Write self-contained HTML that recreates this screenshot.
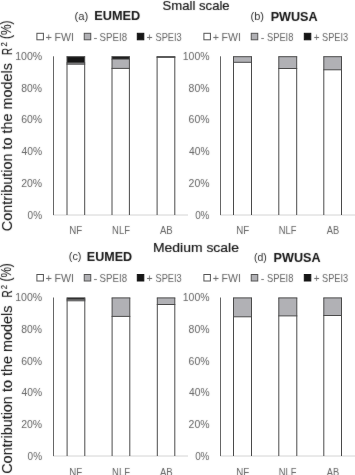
<!DOCTYPE html>
<html><head><meta charset="utf-8"><style>
html,body{margin:0;padding:0;background:#fff;}
body{width:355px;height:475px;overflow:hidden;}
svg{display:block;will-change:transform;font-family:"Liberation Sans", sans-serif;}
</style></head><body>
<svg width="355" height="475" viewBox="0 0 355 475">
<defs><filter id="bl" x="0" y="0" width="355" height="475" filterUnits="userSpaceOnUse" color-interpolation-filters="sRGB"><feConvolveMatrix order="3" kernelMatrix="1 2 1 2 24 2 1 2 1" divisor="36" edgeMode="none" preserveAlpha="false"/></filter></defs>
<filter id="blt" x="0" y="0" width="355" height="475" filterUnits="userSpaceOnUse" color-interpolation-filters="sRGB"><feConvolveMatrix order="3" kernelMatrix="1 2 1 2 36 2 1 2 1" divisor="48" edgeMode="none" preserveAlpha="false"/></filter>
<rect x="0" y="0" width="355" height="475" fill="#fff"/>
<g id="plot" filter="none">
<line x1="53.00" y1="215.00" x2="188.00" y2="215.00" stroke="#d4d4d4" stroke-width="1"/>
<rect x="67.00" y="56.70" width="17.70" height="6.20" fill="#161616"/>
<rect x="67.00" y="62.90" width="17.70" height="1.30" fill="#b1b1b5"/>
<line x1="66.50" y1="56.70" x2="85.20" y2="56.70" stroke="#4a4a4a" stroke-width="1"/>
<line x1="66.50" y1="62.90" x2="85.20" y2="62.90" stroke="#4a4a4a" stroke-width="1"/>
<line x1="66.50" y1="64.20" x2="85.20" y2="64.20" stroke="#4a4a4a" stroke-width="1"/>
<line x1="67.00" y1="56.70" x2="67.00" y2="215.00" stroke="#4a4a4a" stroke-width="1"/>
<line x1="84.70" y1="56.70" x2="84.70" y2="215.00" stroke="#4a4a4a" stroke-width="1"/>
<rect x="112.00" y="56.70" width="17.40" height="2.40" fill="#161616"/>
<rect x="112.00" y="59.10" width="17.40" height="9.30" fill="#b1b1b5"/>
<line x1="111.50" y1="56.70" x2="129.90" y2="56.70" stroke="#4a4a4a" stroke-width="1"/>
<line x1="111.50" y1="59.10" x2="129.90" y2="59.10" stroke="#4a4a4a" stroke-width="1"/>
<line x1="111.50" y1="68.40" x2="129.90" y2="68.40" stroke="#4a4a4a" stroke-width="1"/>
<line x1="112.00" y1="56.70" x2="112.00" y2="215.00" stroke="#4a4a4a" stroke-width="1"/>
<line x1="129.40" y1="56.70" x2="129.40" y2="215.00" stroke="#4a4a4a" stroke-width="1"/>
<rect x="157.10" y="56.70" width="17.70" height="0.60" fill="#161616"/>
<line x1="156.60" y1="56.70" x2="175.30" y2="56.70" stroke="#4a4a4a" stroke-width="1"/>
<line x1="156.60" y1="57.30" x2="175.30" y2="57.30" stroke="#4a4a4a" stroke-width="1"/>
<line x1="157.10" y1="56.70" x2="157.10" y2="215.00" stroke="#4a4a4a" stroke-width="1"/>
<line x1="174.80" y1="56.70" x2="174.80" y2="215.00" stroke="#4a4a4a" stroke-width="1"/>
<line x1="53.50" y1="56.30" x2="53.50" y2="215.00" stroke="#666666" stroke-width="1"/>
<line x1="220.00" y1="215.00" x2="355.00" y2="215.00" stroke="#d4d4d4" stroke-width="1"/>
<rect x="233.50" y="56.70" width="18.00" height="5.60" fill="#b1b1b5"/>
<line x1="233.00" y1="56.70" x2="252.00" y2="56.70" stroke="#4a4a4a" stroke-width="1"/>
<line x1="233.00" y1="62.30" x2="252.00" y2="62.30" stroke="#4a4a4a" stroke-width="1"/>
<line x1="233.50" y1="56.70" x2="233.50" y2="215.00" stroke="#4a4a4a" stroke-width="1"/>
<line x1="251.50" y1="56.70" x2="251.50" y2="215.00" stroke="#4a4a4a" stroke-width="1"/>
<rect x="278.80" y="56.70" width="17.90" height="11.80" fill="#b1b1b5"/>
<line x1="278.30" y1="56.70" x2="297.20" y2="56.70" stroke="#4a4a4a" stroke-width="1"/>
<line x1="278.30" y1="68.50" x2="297.20" y2="68.50" stroke="#4a4a4a" stroke-width="1"/>
<line x1="278.80" y1="56.70" x2="278.80" y2="215.00" stroke="#4a4a4a" stroke-width="1"/>
<line x1="296.70" y1="56.70" x2="296.70" y2="215.00" stroke="#4a4a4a" stroke-width="1"/>
<rect x="323.80" y="56.70" width="17.70" height="13.10" fill="#b1b1b5"/>
<line x1="323.30" y1="56.70" x2="342.00" y2="56.70" stroke="#4a4a4a" stroke-width="1"/>
<line x1="323.30" y1="69.80" x2="342.00" y2="69.80" stroke="#4a4a4a" stroke-width="1"/>
<line x1="323.80" y1="56.70" x2="323.80" y2="215.00" stroke="#4a4a4a" stroke-width="1"/>
<line x1="341.50" y1="56.70" x2="341.50" y2="215.00" stroke="#4a4a4a" stroke-width="1"/>
<line x1="220.50" y1="56.30" x2="220.50" y2="215.00" stroke="#666666" stroke-width="1"/>
<line x1="53.00" y1="456.00" x2="188.00" y2="456.00" stroke="#d4d4d4" stroke-width="1"/>
<rect x="67.10" y="297.90" width="17.70" height="1.40" fill="#161616"/>
<rect x="67.10" y="299.30" width="17.70" height="1.50" fill="#b1b1b5"/>
<line x1="66.60" y1="297.90" x2="85.30" y2="297.90" stroke="#4a4a4a" stroke-width="1"/>
<line x1="66.60" y1="299.30" x2="85.30" y2="299.30" stroke="#4a4a4a" stroke-width="1"/>
<line x1="66.60" y1="300.80" x2="85.30" y2="300.80" stroke="#4a4a4a" stroke-width="1"/>
<line x1="67.10" y1="297.90" x2="67.10" y2="456.00" stroke="#4a4a4a" stroke-width="1"/>
<line x1="84.80" y1="297.90" x2="84.80" y2="456.00" stroke="#4a4a4a" stroke-width="1"/>
<rect x="112.10" y="297.90" width="17.70" height="18.50" fill="#b1b1b5"/>
<line x1="111.60" y1="297.90" x2="130.30" y2="297.90" stroke="#4a4a4a" stroke-width="1"/>
<line x1="111.60" y1="316.40" x2="130.30" y2="316.40" stroke="#4a4a4a" stroke-width="1"/>
<line x1="112.10" y1="297.90" x2="112.10" y2="456.00" stroke="#4a4a4a" stroke-width="1"/>
<line x1="129.80" y1="297.90" x2="129.80" y2="456.00" stroke="#4a4a4a" stroke-width="1"/>
<rect x="157.30" y="297.90" width="17.50" height="6.60" fill="#b1b1b5"/>
<line x1="156.80" y1="297.90" x2="175.30" y2="297.90" stroke="#4a4a4a" stroke-width="1"/>
<line x1="156.80" y1="304.50" x2="175.30" y2="304.50" stroke="#4a4a4a" stroke-width="1"/>
<line x1="157.30" y1="297.90" x2="157.30" y2="456.00" stroke="#4a4a4a" stroke-width="1"/>
<line x1="174.80" y1="297.90" x2="174.80" y2="456.00" stroke="#4a4a4a" stroke-width="1"/>
<line x1="53.50" y1="297.50" x2="53.50" y2="456.00" stroke="#666666" stroke-width="1"/>
<line x1="220.00" y1="456.00" x2="355.00" y2="456.00" stroke="#d4d4d4" stroke-width="1"/>
<rect x="233.50" y="297.90" width="18.00" height="18.90" fill="#b1b1b5"/>
<line x1="233.00" y1="297.90" x2="252.00" y2="297.90" stroke="#4a4a4a" stroke-width="1"/>
<line x1="233.00" y1="316.80" x2="252.00" y2="316.80" stroke="#4a4a4a" stroke-width="1"/>
<line x1="233.50" y1="297.90" x2="233.50" y2="456.00" stroke="#4a4a4a" stroke-width="1"/>
<line x1="251.50" y1="297.90" x2="251.50" y2="456.00" stroke="#4a4a4a" stroke-width="1"/>
<rect x="278.80" y="297.90" width="18.00" height="18.00" fill="#b1b1b5"/>
<line x1="278.30" y1="297.90" x2="297.30" y2="297.90" stroke="#4a4a4a" stroke-width="1"/>
<line x1="278.30" y1="315.90" x2="297.30" y2="315.90" stroke="#4a4a4a" stroke-width="1"/>
<line x1="278.80" y1="297.90" x2="278.80" y2="456.00" stroke="#4a4a4a" stroke-width="1"/>
<line x1="296.80" y1="297.90" x2="296.80" y2="456.00" stroke="#4a4a4a" stroke-width="1"/>
<rect x="323.80" y="297.90" width="17.70" height="17.60" fill="#b1b1b5"/>
<line x1="323.30" y1="297.90" x2="342.00" y2="297.90" stroke="#4a4a4a" stroke-width="1"/>
<line x1="323.30" y1="315.50" x2="342.00" y2="315.50" stroke="#4a4a4a" stroke-width="1"/>
<line x1="323.80" y1="297.90" x2="323.80" y2="456.00" stroke="#4a4a4a" stroke-width="1"/>
<line x1="341.50" y1="297.90" x2="341.50" y2="456.00" stroke="#4a4a4a" stroke-width="1"/>
<line x1="220.50" y1="297.50" x2="220.50" y2="456.00" stroke="#666666" stroke-width="1"/>
<rect x="36.90" y="33.30" width="6.5" height="6.5" fill="#ffffff" stroke="#555555" stroke-width="1"/>
<rect x="84.25" y="33.30" width="6.5" height="6.5" fill="#b1b1b5" stroke="#555555" stroke-width="1"/>
<rect x="137.30" y="33.30" width="6.5" height="6.5" fill="#161616" stroke="#161616" stroke-width="1"/>
<rect x="203.90" y="33.30" width="6.5" height="6.5" fill="#ffffff" stroke="#555555" stroke-width="1"/>
<rect x="251.25" y="33.30" width="6.5" height="6.5" fill="#b1b1b5" stroke="#555555" stroke-width="1"/>
<rect x="304.30" y="33.30" width="6.5" height="6.5" fill="#161616" stroke="#161616" stroke-width="1"/>
<rect x="36.90" y="274.50" width="6.5" height="6.5" fill="#ffffff" stroke="#555555" stroke-width="1"/>
<rect x="84.25" y="274.50" width="6.5" height="6.5" fill="#b1b1b5" stroke="#555555" stroke-width="1"/>
<rect x="137.30" y="274.50" width="6.5" height="6.5" fill="#161616" stroke="#161616" stroke-width="1"/>
<rect x="203.90" y="274.50" width="6.5" height="6.5" fill="#ffffff" stroke="#555555" stroke-width="1"/>
<rect x="251.25" y="274.50" width="6.5" height="6.5" fill="#b1b1b5" stroke="#555555" stroke-width="1"/>
<rect x="304.30" y="274.50" width="6.5" height="6.5" fill="#161616" stroke="#161616" stroke-width="1"/>
</g>
<g id="txt" filter="url(#blt)">
<text id="small" x="162.55" y="10.19" font-size="13.20" fill="#161616" stroke="#161616" stroke-width="0.2" textLength="67.11" lengthAdjust="spacingAndGlyphs">Small scale</text>
<text id="pa" x="74.53" y="19.77" font-size="11.46" fill="#2e2e2e" textLength="13.86" lengthAdjust="spacingAndGlyphs">(a)</text>
<text id="ta" x="94.36" y="20.07" font-size="11.95" font-weight="bold" fill="#161616" stroke="#161616" stroke-width="0.05" textLength="45.91" lengthAdjust="spacingAndGlyphs">EUMED</text>
<text id="lat1" x="54.52" y="40.53" font-size="11.47" fill="#626262" textLength="19.48" lengthAdjust="spacingAndGlyphs">FWI</text>
<text id="ytL0" x="15.21" y="60.12" font-size="10.85" fill="#626262" textLength="27.00" lengthAdjust="spacingAndGlyphs">100%</text>
<text id="ytA1" x="11.63" y="231.15" font-size="13.89" fill="#161616" stroke="#161616" stroke-width="0.1" textLength="168.11" lengthAdjust="spacingAndGlyphs" transform="rotate(-90 11.63 231.15)">Contribution to the models</text>
<text id="ytC1" x="6.94" y="46.57" font-size="8.89" fill="#161616" stroke="#161616" stroke-width="0.1" textLength="4.29" lengthAdjust="spacingAndGlyphs" transform="rotate(-90 6.94 46.57)">2</text>
<text id="medium" x="152.98" y="251.78" font-size="13.20" fill="#161616" stroke="#161616" stroke-width="0.2" textLength="85.96" lengthAdjust="spacingAndGlyphs">Medium scale</text>
<text id="pb" x="250.48" y="19.80" font-size="11.46" fill="#2e2e2e" textLength="13.50" lengthAdjust="spacingAndGlyphs">(b)</text>
<text id="tb" x="270.66" y="20.52" font-size="11.95" font-weight="bold" fill="#161616" stroke="#161616" stroke-width="0.05" textLength="46.93" lengthAdjust="spacingAndGlyphs">PWUSA</text>
<text id="pc" x="68.81" y="260.04" font-size="11.46" fill="#2e2e2e" textLength="12.71" lengthAdjust="spacingAndGlyphs">(c)</text>
<text id="tc" x="86.87" y="261.25" font-size="11.95" font-weight="bold" fill="#161616" stroke="#161616" stroke-width="0.05" textLength="45.27" lengthAdjust="spacingAndGlyphs">EUMED</text>
<text id="pd" x="253.96" y="260.76" font-size="11.46" fill="#2e2e2e" textLength="12.82" lengthAdjust="spacingAndGlyphs">(d)</text>
<text id="td" x="273.60" y="261.65" font-size="11.95" font-weight="bold" fill="#161616" stroke="#161616" stroke-width="0.05" textLength="46.93" lengthAdjust="spacingAndGlyphs">PWUSA</text>
<text id="lat0" x="45.54" y="40.76" font-size="11.47" fill="#626262" textLength="6.47" lengthAdjust="spacingAndGlyphs">+</text>
<text id="lat2" x="93.54" y="40.50" font-size="11.47" fill="#626262" textLength="3.92" lengthAdjust="spacingAndGlyphs">-</text>
<text id="lat3" x="99.62" y="40.62" font-size="11.47" fill="#626262" textLength="27.41" lengthAdjust="spacingAndGlyphs">SPEI8</text>
<text id="lat4" x="146.57" y="40.76" font-size="11.47" fill="#626262" textLength="6.15" lengthAdjust="spacingAndGlyphs">+</text>
<text id="lat5" x="155.49" y="40.62" font-size="11.47" fill="#626262" textLength="26.26" lengthAdjust="spacingAndGlyphs">SPEI3</text>
<text id="lbt0" x="212.86" y="40.76" font-size="11.47" fill="#626262" textLength="6.27" lengthAdjust="spacingAndGlyphs">+</text>
<text id="lbt1" x="221.55" y="40.53" font-size="11.47" fill="#626262" textLength="19.31" lengthAdjust="spacingAndGlyphs">FWI</text>
<text id="lbt2" x="260.84" y="40.50" font-size="11.47" fill="#626262" textLength="3.64" lengthAdjust="spacingAndGlyphs">-</text>
<text id="lbt3" x="266.93" y="40.62" font-size="11.47" fill="#626262" textLength="26.48" lengthAdjust="spacingAndGlyphs">SPEI8</text>
<text id="lbt4" x="313.66" y="40.76" font-size="11.47" fill="#626262" textLength="5.83" lengthAdjust="spacingAndGlyphs">+</text>
<text id="lbt5" x="322.12" y="40.53" font-size="11.47" fill="#626262" textLength="26.04" lengthAdjust="spacingAndGlyphs">SPEI3</text>
<text id="lab0" x="45.54" y="282.00" font-size="11.47" fill="#626262" textLength="6.47" lengthAdjust="spacingAndGlyphs">+</text>
<text id="lab1" x="54.52" y="281.77" font-size="11.47" fill="#626262" textLength="19.58" lengthAdjust="spacingAndGlyphs">FWI</text>
<text id="lab2" x="93.54" y="281.56" font-size="11.47" fill="#626262" textLength="3.92" lengthAdjust="spacingAndGlyphs">-</text>
<text id="lab3" x="99.62" y="281.85" font-size="11.47" fill="#626262" textLength="27.41" lengthAdjust="spacingAndGlyphs">SPEI8</text>
<text id="lab4" x="146.57" y="282.00" font-size="11.47" fill="#626262" textLength="6.15" lengthAdjust="spacingAndGlyphs">+</text>
<text id="lab5" x="155.49" y="281.85" font-size="11.47" fill="#626262" textLength="26.26" lengthAdjust="spacingAndGlyphs">SPEI3</text>
<text id="lbb0" x="212.86" y="282.00" font-size="11.47" fill="#626262" textLength="6.27" lengthAdjust="spacingAndGlyphs">+</text>
<text id="lbb1" x="221.55" y="281.77" font-size="11.47" fill="#626262" textLength="19.31" lengthAdjust="spacingAndGlyphs">FWI</text>
<text id="lbb2" x="260.84" y="281.56" font-size="11.47" fill="#626262" textLength="3.64" lengthAdjust="spacingAndGlyphs">-</text>
<text id="lbb3" x="266.93" y="281.85" font-size="11.47" fill="#626262" textLength="26.48" lengthAdjust="spacingAndGlyphs">SPEI8</text>
<text id="lbb4" x="313.66" y="282.00" font-size="11.47" fill="#626262" textLength="5.83" lengthAdjust="spacingAndGlyphs">+</text>
<text id="lbb5" x="322.12" y="281.77" font-size="11.47" fill="#626262" textLength="26.04" lengthAdjust="spacingAndGlyphs">SPEI3</text>
<text id="ytR0" x="182.77" y="60.03" font-size="10.85" fill="#626262" textLength="26.76" lengthAdjust="spacingAndGlyphs">100%</text>
<text id="ytL1" x="21.24" y="91.74" font-size="10.85" fill="#626262" textLength="20.77" lengthAdjust="spacingAndGlyphs">80%</text>
<text id="ytR1" x="188.61" y="91.74" font-size="10.85" fill="#626262" textLength="20.95" lengthAdjust="spacingAndGlyphs">80%</text>
<text id="ytL2" x="21.14" y="123.45" font-size="10.85" fill="#626262" textLength="20.95" lengthAdjust="spacingAndGlyphs">60%</text>
<text id="ytR2" x="188.61" y="123.45" font-size="10.85" fill="#626262" textLength="20.95" lengthAdjust="spacingAndGlyphs">60%</text>
<text id="ytL3" x="21.51" y="155.15" font-size="10.85" fill="#626262" textLength="20.58" lengthAdjust="spacingAndGlyphs">40%</text>
<text id="ytR3" x="188.98" y="155.15" font-size="10.85" fill="#626262" textLength="20.58" lengthAdjust="spacingAndGlyphs">40%</text>
<text id="ytL4" x="21.14" y="186.86" font-size="10.85" fill="#626262" textLength="20.95" lengthAdjust="spacingAndGlyphs">20%</text>
<text id="ytR4" x="188.61" y="186.86" font-size="10.85" fill="#626262" textLength="20.95" lengthAdjust="spacingAndGlyphs">20%</text>
<text id="ytL5" x="27.57" y="218.56" font-size="10.85" fill="#626262" textLength="14.48" lengthAdjust="spacingAndGlyphs">0%</text>
<text id="ytR5" x="195.14" y="218.56" font-size="10.85" fill="#626262" textLength="14.29" lengthAdjust="spacingAndGlyphs">0%</text>
<text id="ybL0" x="15.21" y="301.27" font-size="10.85" fill="#626262" textLength="26.95" lengthAdjust="spacingAndGlyphs">100%</text>
<text id="ybR0" x="182.77" y="301.27" font-size="10.85" fill="#626262" textLength="26.76" lengthAdjust="spacingAndGlyphs">100%</text>
<text id="ybL1" x="21.24" y="332.97" font-size="10.85" fill="#626262" textLength="20.77" lengthAdjust="spacingAndGlyphs">80%</text>
<text id="ybR1" x="188.61" y="332.97" font-size="10.85" fill="#626262" textLength="20.95" lengthAdjust="spacingAndGlyphs">80%</text>
<text id="ybL2" x="21.14" y="364.68" font-size="10.85" fill="#626262" textLength="20.95" lengthAdjust="spacingAndGlyphs">60%</text>
<text id="ybR2" x="188.61" y="364.68" font-size="10.85" fill="#626262" textLength="20.95" lengthAdjust="spacingAndGlyphs">60%</text>
<text id="ybL3" x="21.51" y="396.39" font-size="10.85" fill="#626262" textLength="20.58" lengthAdjust="spacingAndGlyphs">40%</text>
<text id="ybR3" x="188.98" y="396.39" font-size="10.85" fill="#626262" textLength="20.58" lengthAdjust="spacingAndGlyphs">40%</text>
<text id="ybL4" x="21.14" y="428.09" font-size="10.85" fill="#626262" textLength="20.95" lengthAdjust="spacingAndGlyphs">20%</text>
<text id="ybR4" x="188.61" y="428.09" font-size="10.85" fill="#626262" textLength="20.95" lengthAdjust="spacingAndGlyphs">20%</text>
<text id="ybL5" x="27.57" y="459.80" font-size="10.85" fill="#626262" textLength="14.48" lengthAdjust="spacingAndGlyphs">0%</text>
<text id="ybR5" x="195.14" y="459.80" font-size="10.85" fill="#626262" textLength="14.29" lengthAdjust="spacingAndGlyphs">0%</text>
<text id="xtNF76" x="69.31" y="234.06" font-size="10.95" fill="#626262" textLength="13.01" lengthAdjust="spacingAndGlyphs">NF</text>
<text id="xtNLF121" x="112.06" y="234.06" font-size="10.95" fill="#626262" textLength="17.87" lengthAdjust="spacingAndGlyphs">NLF</text>
<text id="xtAB166" x="159.89" y="234.06" font-size="10.95" fill="#626262" textLength="12.82" lengthAdjust="spacingAndGlyphs">AB</text>
<text id="xtNF243" x="236.31" y="234.06" font-size="10.95" fill="#626262" textLength="13.01" lengthAdjust="spacingAndGlyphs">NF</text>
<text id="xtNLF287" x="278.87" y="234.06" font-size="10.95" fill="#626262" textLength="17.65" lengthAdjust="spacingAndGlyphs">NLF</text>
<text id="xtAB332" x="326.82" y="234.06" font-size="10.95" fill="#626262" textLength="12.43" lengthAdjust="spacingAndGlyphs">AB</text>
<text id="ytB1" x="11.56" y="54.94" font-size="13.89" fill="#161616" stroke="#161616" stroke-width="0.1" textLength="7.00" lengthAdjust="spacingAndGlyphs" transform="rotate(-90 11.56 54.94)">R</text>
<text id="ytD1" x="11.10" y="38.92" font-size="13.89" fill="#161616" stroke="#161616" stroke-width="0.1" textLength="18.48" lengthAdjust="spacingAndGlyphs" transform="rotate(-90 11.10 38.92)">(%)</text>
<text id="ytA2" x="11.54" y="473.77" font-size="13.89" fill="#161616" stroke="#161616" stroke-width="0.1" textLength="168.13" lengthAdjust="spacingAndGlyphs" transform="rotate(-90 11.54 473.77)">Contribution to the models</text>
<text id="ytB2" x="11.56" y="297.56" font-size="13.89" fill="#161616" stroke="#161616" stroke-width="0.1" textLength="7.14" lengthAdjust="spacingAndGlyphs" transform="rotate(-90 11.56 297.56)">R</text>
<text id="ytC2" x="6.94" y="289.19" font-size="8.89" fill="#161616" stroke="#161616" stroke-width="0.1" textLength="4.26" lengthAdjust="spacingAndGlyphs" transform="rotate(-90 6.94 289.19)">2</text>
<text id="ytD2" x="11.10" y="281.54" font-size="13.89" fill="#161616" stroke="#161616" stroke-width="0.1" textLength="18.31" lengthAdjust="spacingAndGlyphs" transform="rotate(-90 11.10 281.54)">(%)</text>
<text id="xbNF76" x="69.31" y="475.56" font-size="10.95" fill="#626262" textLength="13.01" lengthAdjust="spacingAndGlyphs">NF</text>
<text id="xbNLF121" x="112.06" y="475.56" font-size="10.95" fill="#626262" textLength="17.87" lengthAdjust="spacingAndGlyphs">NLF</text>
<text id="xbAB166" x="159.89" y="475.56" font-size="10.95" fill="#626262" textLength="12.82" lengthAdjust="spacingAndGlyphs">AB</text>
<text id="xbNF243" x="236.31" y="475.56" font-size="10.95" fill="#626262" textLength="13.01" lengthAdjust="spacingAndGlyphs">NF</text>
<text id="xbNLF287" x="278.87" y="475.56" font-size="10.95" fill="#626262" textLength="17.65" lengthAdjust="spacingAndGlyphs">NLF</text>
<text id="xbAB332" x="326.82" y="475.56" font-size="10.95" fill="#626262" textLength="12.43" lengthAdjust="spacingAndGlyphs">AB</text>
</g>
</svg>
</body></html>
